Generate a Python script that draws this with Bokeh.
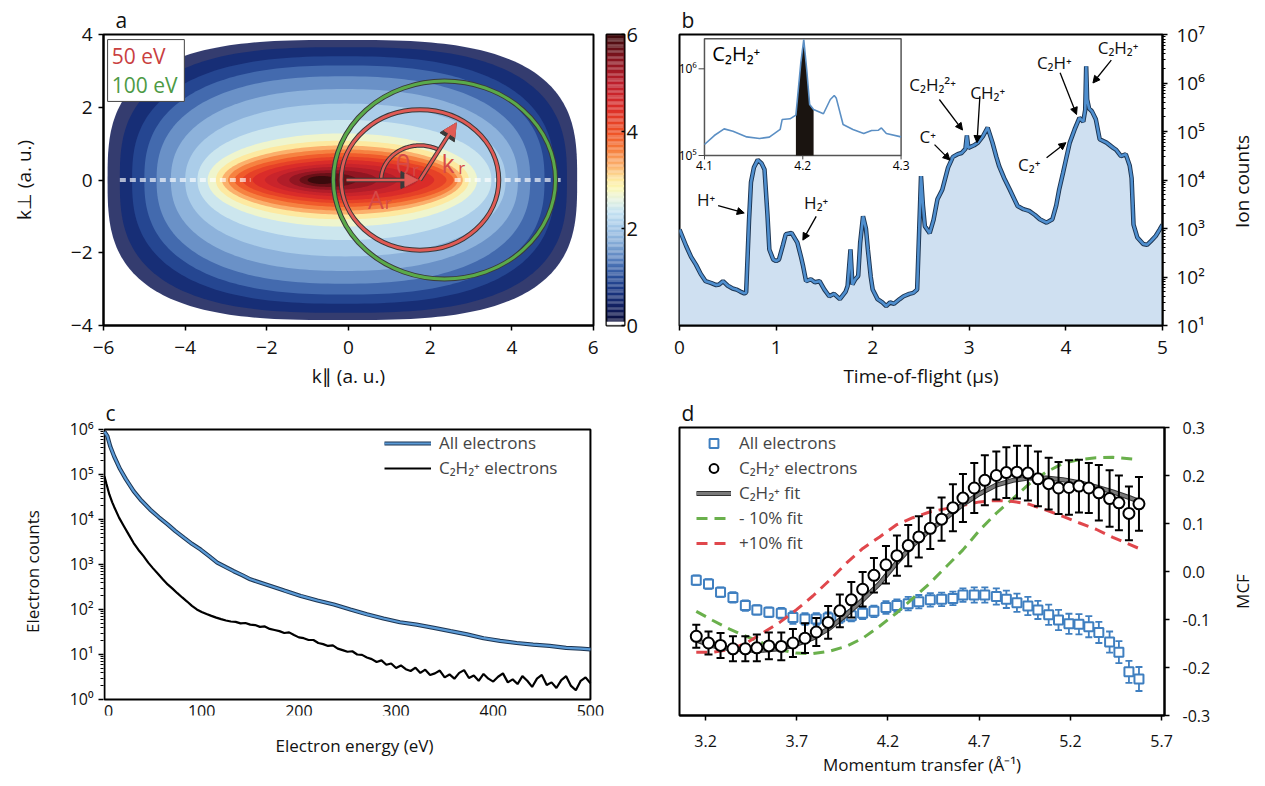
import numpy as np
from bokeh.plotting import figure
from bokeh.layouts import row, column
from bokeh.models import (Range1d, LogScale, FixedTicker, Arrow, NormalHead, Title,
                          Legend, LegendItem, NumeralTickFormatter)
from bokeh.embed import file_html
from bokeh.resources import INLINE
from bokeh.core.properties import value

FONT = "Open Sans"

# ---------------- Panel a : momentum distribution (log10 counts) ----------------
level_value = [0.3, 0.6, 0.9, 1.2, 1.5, 1.8, 2.1, 2.4, 2.7, 3.0, 3.3, 3.6, 3.9, 4.2, 4.5, 4.8, 5.1, 5.4, 5.7, 6.0]
level_xl = [-5.9, -5.6, -5.3, -5.0, -4.7, -4.35, -4.0, -3.7, -3.45, -3.25, -3.1, -2.95, -2.8, -2.6, -2.35, -2.05, -1.75, -1.45, -1.2, -1.0]
level_xr = [5.6, 5.35, 5.05, 4.8, 4.45, 4.15, 3.85, 3.5, 3.15, 2.95, 2.8, 2.68, 2.58, 2.4, 2.1, 1.7, 1.2, 0.7, 0.2, -0.3]
level_yh = [3.85, 3.65, 3.4, 3.15, 2.85, 2.5, 2.1, 1.65, 1.28, 1.08, 0.95, 0.84, 0.74, 0.64, 0.55, 0.45, 0.36, 0.27, 0.19, 0.11]
level_n = [3.0, 2.8, 2.6, 2.5, 2.4, 2.3, 2.2, 2.1, 2.0, 2.0, 1.9, 1.9, 1.8, 1.8, 1.8, 1.8, 1.9, 2.0, 2.0, 2.0]
streak_x0 = [-5.6, 2.6]
streak_x1 = [-2.4, 5.2]
energy_label = ["50 eV", "100 eV"]
circle_cx = [1.75, 2.35]
circle_r = [1.93, 2.72]
ar_arrow = [-0.05, 0.0, 1.70, 0.0]
kr_arrow = [1.75, 0.0, 2.64, 1.57]
theta_arc = [1.75, 0.95, 60.0, 180.0]
sym_text = ["θ", "k", "A"]
sym_x = [1.34, 2.44, 0.67]
sym_y = [0.43, 0.47, -0.515]
sub_x = [1.64, 2.77, 0.97]
sub_y = [0.29, 0.34, -0.61]
a_xticks = [-6, -4, -2, 0, 2, 4, 6]
a_yticks = [-4, -2, 0, 2, 4]
cbar_ticks = [0, 2, 4, 6]

# colour map stops (value, colour)
cb_stop_v = [0.0, 0.08, 0.09, 0.35, 0.7, 1.0, 1.3, 1.65, 2.0, 2.35, 2.62, 2.83, 3.0, 3.3, 3.65, 4.0, 4.5, 5.0, 5.5, 6.0]
cb_stop_c = ["#ffffff", "#ffffff", "#0b0f3d", "#111d5c", "#1a3580", "#2a4f9a", "#4f77b8", "#7ea5d3",
             "#a0c4e6", "#c6e3f2", "#e8f3dc", "#fbf7b5", "#fde9a0", "#fbb06c", "#f57a3a", "#ee4f25",
             "#da2c29", "#bd1f2c", "#86141f", "#3a0a0c"]

# ---------------- Panel b : time-of-flight spectrum ----------------
tof_t = [0.00, 0.07, 0.12, 0.17, 0.22, 0.27, 0.33, 0.38, 0.41, 0.45,
         0.50, 0.55, 0.59, 0.63, 0.67, 0.69, 0.72, 0.74, 0.77, 0.81,
         0.85, 0.88, 0.91, 0.93, 0.97, 1.00, 1.03, 1.07, 1.10, 1.16,
         1.22, 1.26, 1.28, 1.31, 1.36, 1.40, 1.45, 1.50, 1.55, 1.60,
         1.66, 1.72, 1.74, 1.77, 1.79, 1.82, 1.85, 1.87, 1.90, 1.93,
         1.95, 1.98, 2.00, 2.05, 2.10, 2.14, 2.18, 2.22, 2.28, 2.32,
         2.38, 2.42, 2.46, 2.49, 2.50, 2.52, 2.54, 2.59, 2.63, 2.67,
         2.72, 2.78, 2.83, 2.88, 2.92, 2.96, 2.975, 2.99, 3.05, 3.09,
         3.14, 3.19, 3.24, 3.28, 3.31, 3.36, 3.42, 3.50, 3.56, 3.62,
         3.68, 3.73, 3.80, 3.86, 3.90, 3.93, 3.97, 4.00, 4.04, 4.09,
         4.14, 4.18, 4.20, 4.21, 4.22, 4.24, 4.27, 4.31, 4.35, 4.42,
         4.49, 4.52, 4.57, 4.62, 4.66, 4.68, 4.70, 4.74, 4.80, 4.84,
         4.88, 4.93, 4.97, 5.00]
tof_counts = [950, 430, 260, 180, 115, 82, 75, 68, 70, 82,
              66, 58, 55, 50, 46, 48, 1500, 9000, 18000, 26000,
              22000, 16500, 2000, 370, 230, 212, 230, 450, 760, 810,
              510, 250, 166, 82, 90, 78, 82, 55, 40, 45,
              35, 50, 65, 370, 70, 90, 105, 500, 1780, 1000,
              370, 100, 55, 35, 30, 25, 30, 28, 35, 40,
              45, 47, 55, 3000, 12000, 3000, 1120, 800, 1500, 4000,
              6300, 18000, 30000, 34000, 36000, 44000, 83000, 46000, 52000, 59000,
              79000, 120000, 59000, 30000, 19000, 11000, 6300, 2900, 2500, 2300,
              1900, 1550, 1320, 1550, 3000, 6300, 14000, 26000, 59000, 110000,
              190000, 160000, 280000, 2200000, 460000, 300000, 260000, 178000, 69000, 59000,
              46000, 42000, 31000, 34000, 20000, 11000, 1200, 650, 480, 460,
              550, 700, 950, 1200]
b_xticks = [0, 1, 2, 3, 4, 5]
b_yticks = [10, 100, 1000, 10000, 100000, 1000000, 10000000]
b_ylabels = ["10¹", "10²", "10³", "10⁴", "10⁵", "10⁶", "10⁷"]
ion_label = ["H⁺", "H₂⁺", "C⁺", "C₂H₂²⁺", "CH₂⁺", "C₂⁺", "C₂H⁺", "C₂H₂⁺"]
ion_label_t = [0.276, 1.415, 2.57, 2.62, 3.19, 3.62, 3.88, 4.54]
ion_label_c = [4000, 3400, 78000, 930000, 630000, 21000, 2700000, 5400000]
ion_arrow_t0 = [0.40, 1.415, 2.64, 2.69, 3.11, 3.80, 3.94, 4.47]
ion_arrow_c0 = [2950, 1780, 53700, 457000, 537000, 28800, 1620000, 2950000]
ion_arrow_t1 = [0.67, 1.277, 2.80, 2.93, 3.08, 4.00, 4.11, 4.28]
ion_arrow_c1 = [2090, 575, 25700, 107000, 58900, 58900, 224000, 1000000]

# inset (C2H2+ peak)
inset_t = [4.100, 4.110, 4.120, 4.129, 4.143, 4.156, 4.166, 4.177, 4.179, 4.187,
           4.193, 4.198, 4.201, 4.204, 4.207, 4.211, 4.221, 4.228, 4.232, 4.234,
           4.241, 4.251, 4.262, 4.270, 4.277, 4.280, 4.285, 4.300]
inset_counts = [134000, 170000, 203000, 191000, 164000, 157000, 163000, 200000, 260000, 265000,
                292000, 1170000, 2180000, 982000, 387000, 339000, 303000, 443000, 492000, 462000,
                228000, 200000, 179000, 194000, 196000, 208000, 179000, 164000]
inset_gate = [4.193, 4.211]
inset_xticks = [4.1, 4.2, 4.3]
inset_xlabels = ["4.1", "4.2", "4.3"]
inset_yticks = [100000, 1000000]
inset_ylabels = ["10⁵", "10⁶"]

# ---------------- Panel c : electron energy spectra ----------------
all_e = [0, 3, 6, 10, 16, 22, 30, 38, 47, 56, 65, 73, 82, 90, 99, 108, 116, 125, 133, 142,
         150, 167, 185, 202, 219, 236, 253, 270, 287, 304, 321, 339, 356, 373, 390, 407, 424, 441,
         458, 475, 490, 500]
all_counts = [890000, 710000, 417000, 251000, 132000, 79000, 42700, 26300, 16600, 11200,
              7760, 5500, 3890, 2880, 2140, 1510, 1100, 870, 708, 575,
              468, 355, 263, 200, 158, 129, 100, 78, 63, 52,
              46, 39, 33, 28, 23, 20, 18, 16.6, 15.5, 14, 13.5, 13]
ion_e = [0, 2, 5, 8] + list(range(10, 505, 5))
ion_counts = [90000, 62000, 36000, 24000,
              19000, 11000, 7100, 4600, 3000, 2100, 1550, 1100, 820, 620,
              470, 360, 290, 230, 185, 150, 120, 100, 88, 79,
              72, 66, 61, 57,
              54, 53, 49, 50, 46, 45, 41, 42, 37, 35,
              33, 30, 31, 27, 24, 23, 21, 21, 18, 17,
              15.5, 16, 13.5, 12.5, 11.5, 11.8, 10, 9.8, 8.6, 7.9,
              6.8, 7.4, 5.9, 6.3, 5.0, 5.7, 4.7, 4.3, 5.1, 3.9,
              4.6, 3.5, 3.8, 4.4, 3.1, 3.6, 2.9, 3.9, 4.5, 3.0,
              3.4, 2.6, 3.7, 2.9, 2.5, 3.2, 3.8, 2.4, 2.8, 2.2,
              3.3, 2.6, 1.9, 2.9, 3.5, 2.1, 2.4, 1.8, 2.7, 3.3,
              2.0, 1.6, 2.6, 3.1, 2.3]
c_xticks = [0, 100, 200, 300, 400, 500]
c_xlabels = ["0", "100", "200", "300", "400", "500"]
c_yticks = [1, 10, 100, 1000, 10000, 100000, 1000000]
c_ylabels = ["10⁰", "10¹", "10²", "10³", "10⁴", "10⁵", "10⁶"]

# ---------------- Panel d : MCF vs momentum transfer ----------------
mt_x = [3.149, 3.216, 3.282, 3.350, 3.418, 3.481, 3.547, 3.615, 3.679, 3.745,
        3.807, 3.872, 3.936, 3.999, 4.061, 4.123, 4.189, 4.249, 4.311, 4.369,
        4.432, 4.494, 4.556, 4.611, 4.673, 4.731, 4.794, 4.849, 4.907, 4.967,
        5.022, 5.081, 5.135, 5.192, 5.247, 5.301, 5.356, 5.415, 5.466, 5.521, 5.576]
all_mcf = [-0.018, -0.026, -0.043, -0.054, -0.071, -0.080, -0.085, -0.087, -0.096, -0.099,
           -0.099, -0.097, -0.095, -0.092, -0.087, -0.083, -0.075, -0.071, -0.067, -0.063,
           -0.059, -0.058, -0.056, -0.049, -0.049, -0.049, -0.052, -0.058, -0.065, -0.072,
           -0.080, -0.090, -0.101, -0.109, -0.110, -0.115, -0.127, -0.147, -0.168, -0.209, -0.224]
all_err = [0.010, 0.010, 0.010, 0.011, 0.011, 0.010, 0.010, 0.011, 0.013, 0.012,
           0.012, 0.012, 0.012, 0.012, 0.012, 0.012, 0.013, 0.013, 0.014, 0.014,
           0.014, 0.014, 0.014, 0.014, 0.016, 0.016, 0.017, 0.018, 0.019, 0.019,
           0.019, 0.021, 0.021, 0.021, 0.021, 0.022, 0.022, 0.022, 0.023, 0.023, 0.025]
ion_mcf = [-0.135, -0.149, -0.154, -0.161, -0.161, -0.159, -0.155, -0.156, -0.149, -0.139,
           -0.126, -0.106, -0.082, -0.059, -0.037, -0.008, 0.014, 0.033, 0.054, 0.072,
           0.090, 0.109, 0.133, 0.153, 0.174, 0.190, 0.200, 0.206, 0.207, 0.205,
           0.193, 0.183, 0.174, 0.175, 0.178, 0.174, 0.164, 0.152, 0.143, 0.121, 0.141]
ion_err = [0.024, 0.024, 0.026, 0.026, 0.026, 0.028, 0.028, 0.029, 0.029, 0.031,
           0.029, 0.034, 0.034, 0.037, 0.036, 0.036, 0.039, 0.042, 0.043, 0.043,
           0.043, 0.045, 0.049, 0.050, 0.052, 0.052, 0.050, 0.053, 0.055, 0.057,
           0.057, 0.054, 0.054, 0.057, 0.055, 0.052, 0.058, 0.059, 0.057, 0.056, 0.056]
fit_x = [3.149, 3.240, 3.332, 3.423, 3.514, 3.606, 3.697, 3.788, 3.880, 3.971, 4.062, 4.154, 4.245, 4.336,
         4.428, 4.519, 4.611, 4.702, 4.793, 4.885, 4.976, 5.067, 5.159, 5.250, 5.341, 5.433, 5.524, 5.576]
fit_mcf = [-0.143, -0.155, -0.161, -0.164, -0.164, -0.161, -0.152, -0.139, -0.118, -0.090, -0.059, -0.025,
           0.017, 0.055, 0.086, 0.112, 0.140, 0.162, 0.180, 0.190, 0.195, 0.195, 0.191, 0.185, 0.176,
           0.166, 0.154, 0.146]
pm_x = [3.149, 3.240, 3.332, 3.423, 3.514, 3.606, 3.697, 3.788, 3.880, 3.971, 4.062, 4.154, 4.245, 4.336,
        4.428, 4.519, 4.611, 4.702, 4.793, 4.885, 4.976, 5.067, 5.159, 5.250, 5.341, 5.433, 5.576]
minus_mcf = [-0.083, -0.102, -0.120, -0.135, -0.149, -0.163, -0.170, -0.171, -0.166, -0.156, -0.139, -0.114,
             -0.087, -0.056, -0.025, 0.010, 0.045, 0.086, 0.121, 0.152, 0.183, 0.207, 0.225, 0.233, 0.237,
             0.238, 0.233]
plus_mcf = [-0.168, -0.168, -0.163, -0.149, -0.128, -0.106, -0.080, -0.051, -0.018, 0.017, 0.048, 0.072,
            0.097, 0.112, 0.124, 0.131, 0.138, 0.145, 0.148, 0.146, 0.140, 0.128, 0.115, 0.101, 0.088,
            0.071, 0.048]
d_xticks = [3.2, 3.7, 4.2, 4.7, 5.2, 5.7]
d_yticks = [-0.3, -0.2, -0.1, 0.0, 0.1, 0.2, 0.3]

assert len(tof_t) == len(tof_counts)
assert len(ion_e) == len(ion_counts)
assert len(all_e) == len(all_counts)

# ---------------- helpers ----------------
_CBV = np.array(cb_stop_v)
_CBC = np.array([[int(c[i:i + 2], 16) for i in (1, 3, 5)] for c in cb_stop_c], float)


def cmap(v):
    rgb = [int(round(np.interp(v, _CBV, _CBC[:, k]))) for k in range(3)]
    return "#%02x%02x%02x" % tuple(rgb)


def base_fig(letter=None, offset=0, **kw):
    p = figure(output_backend="svg", toolbar_location=None, **kw)
    p.grid.visible = False
    p.outline_line_color = "black"
    p.outline_line_width = 2
    p.background_fill_color = "white"
    p.border_fill_color = "white"
    if letter is not None:
        p.title = Title(text=letter, align="left", offset=offset, standoff=2, text_font=FONT,
                        text_font_size="21px", text_font_style="normal", text_color="#111111")
    return p


def side_label(w, h, top, bottom, txt, lx, ly, fs):
    fh = h - top - bottom
    f = figure(width=w, height=h, x_range=Range1d(0, w), y_range=Range1d(0, fh), output_backend="svg",
               toolbar_location=None, x_axis_location=None, y_axis_location=None,
               min_border_left=0, min_border_right=0, min_border_top=top, min_border_bottom=bottom)
    f.grid.visible = False
    f.outline_line_color = None
    f.background_fill_color = "white"
    f.border_fill_color = "white"
    f.text(x=[lx], y=[ly], text=[txt], angle=np.pi / 2, text_font=value(FONT), text_font_size=fs,
           text_color="#111111", text_align="center", text_baseline="middle")
    return f


def style_axis(ax, fs, lfs, standoff, lstandoff, tick_out=5):
    ax.major_label_text_font = FONT
    ax.major_label_text_font_size = fs
    ax.major_label_text_color = "#111111"
    ax.axis_label_text_font = FONT
    ax.axis_label_text_font_size = lfs
    ax.axis_label_text_font_style = "normal"
    ax.axis_label_text_color = "#111111"
    ax.axis_line_color = "black"
    ax.axis_line_width = 2
    ax.major_tick_line_color = "black"
    ax.major_tick_line_width = 1.5
    ax.major_tick_out = tick_out
    ax.major_tick_in = 0
    ax.major_label_standoff = standoff
    ax.axis_label_standoff = lstandoff


def minor_log(ticks):
    out = []
    for t in ticks[:-1]:
        out += [t * k for k in range(2, 10)]
    return out


# ================= Panel a =================
pa = base_fig("a", 12, width=598, height=394, x_range=Range1d(-6, 6), y_range=Range1d(-4, 4),
              min_border_left=103, min_border_right=5, min_border_top=34, min_border_bottom=69)
tt = np.linspace(0, 2 * np.pi, 241)
xs, ys, cols, alphas = [], [], [], []
for i, (v, xl, xr, yh, n) in enumerate(zip(level_value, level_xl, level_xr, level_yh, level_n)):
    xc = 0.5 * (xl + xr)
    aa = 0.5 * (xr - xl)
    c, s = np.cos(tt), np.sin(tt)
    xs.append(list(xc + aa * np.sign(c) * np.abs(c) ** (2.0 / n)))
    ys.append(list(yh * np.sign(s) * np.abs(s) ** (2.0 / n)))
    cols.append(cmap(v))
    alphas.append(0.85 if i == 0 else 1.0)
pa.patches(xs, ys, fill_color=cols, fill_alpha=alphas, line_color=None)
pa.segment(x0=streak_x0, y0=[0, 0], x1=streak_x1, y1=[0, 0], line_color="white",
           line_alpha=0.65, line_width=4, line_dash="6 4")

ring_colors = ["#e05a55", "#5aaa4a"]
pa.ellipse(x=circle_cx, y=[0, 0], width=[2 * r for r in circle_r], height=[2 * r for r in circle_r],
           fill_color=None, line_color="#3a3a3a", line_width=5)
pa.ellipse(x=circle_cx, y=[0, 0], width=[2 * r for r in circle_r], height=[2 * r for r in circle_r],
           fill_color=None, line_color=ring_colors, line_width=3)

ang = np.radians(np.linspace(theta_arc[2], theta_arc[3], 60))
arc_x = theta_arc[0] + theta_arc[1] * np.cos(ang)
arc_y = theta_arc[1] * np.sin(ang)
pa.line(arc_x, arc_y, line_color="#3a3a3a", line_width=4.5)
pa.line(arc_x, arc_y, line_color="#e05a55", line_width=2.5)

for arr in (ar_arrow, kr_arrow):
    pa.add_layout(Arrow(x_start=arr[0], y_start=arr[1], x_end=arr[2], y_end=arr[3],
                        line_color="#3a3a3a", line_width=4.5,
                        end=NormalHead(size=17, fill_color="#3a3a3a", line_color="#3a3a3a")))
    pa.add_layout(Arrow(x_start=arr[0], y_start=arr[1], x_end=arr[2], y_end=arr[3],
                        line_color="#e05a55", line_width=2.5,
                        end=NormalHead(size=13, fill_color="#e05a55", line_color="#e05a55")))

pa.text(x=sym_x, y=sym_y, text=sym_text, text_font=value(FONT), text_font_size="25px",
        text_color="#d64a47", text_align="center", text_baseline="middle")
pa.text(x=sub_x, y=sub_y, text=["r", "r", "r"], text_font=value(FONT), text_font_size="17px",
        text_color="#d64a47", text_align="center", text_baseline="middle")

pa.quad(left=[-5.9], right=[-4.02], top=[3.86], bottom=[2.16], fill_color="white",
        line_color="#444444", line_width=1)
pa.text(x=[-5.8, -5.8], y=[3.42, 2.62], text=energy_label, text_font=value(FONT),
        text_font_size="21px", text_color=["#c9403f", "#4d9a44"], text_align="left",
        text_baseline="middle")

pa.xaxis.ticker = FixedTicker(ticks=a_xticks)
pa.yaxis.ticker = FixedTicker(ticks=a_yticks)
pa.xaxis.axis_label = "k∥ (a. u.)"
pa.yaxis.axis_label = "k⊥ (a. u.)"
style_axis(pa.xaxis[0], "19px", "19px", 10, 6)
style_axis(pa.yaxis[0], "19px", "19px", 6, 31)

# ================= Colour bar =================
pcb = base_fig(width=61, height=394, x_range=Range1d(0, 1), y_range=Range1d(0, 6),
               y_axis_location="right", x_axis_location=None,
               min_border_left=8, min_border_right=35, min_border_top=34, min_border_bottom=69)
cbv = np.linspace(0, 6, 241)
pcb.quad(left=0, right=1, bottom=cbv[:-1], top=cbv[1:],
         fill_color=[cmap(0.5 * (a + b)) for a, b in zip(cbv[:-1], cbv[1:])], line_color=None)
pcb.yaxis.ticker = FixedTicker(ticks=cbar_ticks)
style_axis(pcb.yaxis[0], "20px", "12px", 2, 2, tick_out=0)
pcb.yaxis.major_tick_in = 3
pcb.yaxis.axis_line_color = None

# ================= Panel b =================
pb = base_fig("b", 2, width=567, height=394, x_range=Range1d(0, 5), y_range=Range1d(10, 1e7),
              y_axis_type="log", y_axis_location="right",
              min_border_left=20, min_border_right=64, min_border_top=34, min_border_bottom=69)
pb.extra_x_ranges = {"ix": Range1d(4.0746, 4.5659)}
pb.extra_y_ranges = {"iy": Range1d(10 ** 3.039, 10 ** 6.396)}
pb.extra_y_scales = {"iy": LogScale()}

pb.varea(x=tof_t, y1=[10] * len(tof_t), y2=tof_counts, fill_color="#cfe0f1")
pb.line(tof_t, tof_counts, line_color="#1d3552", line_width=4.5)
pb.line(tof_t, tof_counts, line_color="#4f8fcf", line_width=2.6)

pb.text(x=ion_label_t, y=ion_label_c, text=ion_label, text_font=value(FONT), text_font_size="17px",
        text_color="#111111", text_align="center", text_baseline="middle")
for t0, c0, t1, c1 in zip(ion_arrow_t0, ion_arrow_c0, ion_arrow_t1, ion_arrow_c1):
    pb.add_layout(Arrow(x_start=t0, y_start=c0, x_end=t1, y_end=c1, line_color="black", line_width=1.3,
                        end=NormalHead(size=7, fill_color="black", line_color="black", line_width=1)))

# inset
pb.quad(left=[4.1], right=[4.3], bottom=[1e5], top=[10 ** 6.346], fill_color="white",
        line_color="#555555", line_width=1.5, x_range_name="ix", y_range_name="iy")
g_t = [t for t in inset_t if inset_gate[0] <= t <= inset_gate[1]]
g_c = [c for t, c in zip(inset_t, inset_counts) if inset_gate[0] <= t <= inset_gate[1]]
pb.varea(x=g_t, y1=[1e5] * len(g_t), y2=g_c, fill_color="#1a1410", x_range_name="ix", y_range_name="iy")
pb.line(inset_t, inset_counts, line_color="#5b8fc4", line_width=1.6, x_range_name="ix", y_range_name="iy")
pb.segment(x0=[4.1 - 0.006] * 2, y0=inset_yticks, x1=[4.1] * 2, y1=inset_yticks, line_color="#444444",
           line_width=1, x_range_name="ix", y_range_name="iy")
pb.segment(x0=inset_xticks, y0=[1e5] * 3, x1=inset_xticks, y1=[10 ** 4.955] * 3, line_color="#444444",
           line_width=1, x_range_name="ix", y_range_name="iy")
pb.text(x=inset_xticks, y=[10 ** 4.94] * 3, text=inset_xlabels, text_font=value(FONT),
        text_font_size="12px", text_align="center", text_baseline="top", x_range_name="ix",
        y_range_name="iy")
pb.text(x=[4.1 - 0.008] * 2, y=inset_yticks, text=inset_ylabels, text_font=value(FONT),
        text_font_size="12px", text_align="right", text_baseline="middle", x_range_name="ix",
        y_range_name="iy")
pb.text(x=[4.108], y=[10 ** 6.176], text=["C₂H₂⁺"], text_font=value(FONT), text_font_size="20px",
        text_align="left", text_baseline="middle", x_range_name="ix", y_range_name="iy")

pb.xaxis.ticker = FixedTicker(ticks=b_xticks)
pb.yaxis.ticker = FixedTicker(ticks=b_yticks, minor_ticks=minor_log(b_yticks))
pb.yaxis.major_label_overrides = dict(zip(b_yticks, b_ylabels))
pb.xaxis.axis_label = "Time-of-flight (µs)"
style_axis(pb.xaxis[0], "19px", "19px", 10, 6)
style_axis(pb.yaxis[0], "19px", "19px", 9, 6)
pb.xaxis.minor_tick_line_color = None
pb.yaxis.minor_tick_out = 3
pb.yaxis.minor_tick_in = 0
pb.yaxis.minor_tick_line_color = "black"
pbl = side_label(30, 394, 34, 69, "Ion counts", 15, 144, "19px")

# ================= Panel c =================
# frame is shared (aligned) with panel d; the axis box of c is drawn as its own outline
pc = base_fig("c", 2, width=605, height=387, x_range=Range1d(-1, 515.5),
              y_range=Range1d(10 ** -0.356, 10 ** 6.044), y_axis_type="log",
              min_border_left=103, min_border_right=0, min_border_top=33, min_border_bottom=66)
pc.outline_line_color = None
pc.quad(left=[0], right=[500], bottom=[1], top=[1e6], fill_color=None, line_color="black", line_width=2)
r_all_dark = pc.line(all_e, all_counts, line_color="#1d3552", line_width=4.2)
r_all = pc.line(all_e, all_counts, line_color="#5a9ad6", line_width=2.2)
r_ion = pc.line(ion_e, ion_counts, line_color="black", line_width=2.2)
pc.text(x=c_xticks, y=[1] * len(c_xticks), text=c_xlabels, x_offset=[4, 0, 0, 0, 0, 0], y_offset=12,
        text_font=value(FONT), text_font_size="16px", text_color="#111111", text_align="center",
        text_baseline="middle")
pc.xaxis.ticker = FixedTicker(ticks=[])
pc.yaxis.ticker = FixedTicker(ticks=c_yticks, minor_ticks=minor_log(c_yticks))
pc.yaxis.major_label_overrides = dict(zip(c_yticks, c_ylabels))
pc.xaxis.axis_label = "Electron energy (eV)"
pc.yaxis.axis_label = "Electron counts"
style_axis(pc.xaxis[0], "16px", "17px", 0, 18, tick_out=0)
style_axis(pc.yaxis[0], "16px", "17px", 5, 23)
pc.xaxis.axis_line_color = None
pc.yaxis.axis_line_color = None
pc.xaxis.minor_tick_line_color = None
pc.yaxis.minor_tick_out = 3
pc.yaxis.minor_tick_in = 0
pc.yaxis.minor_tick_line_color = "black"
leg_c = Legend(items=[LegendItem(label="All electrons", renderers=[r_all_dark, r_all]),
                      LegendItem(label="C₂H₂⁺ electrons", renderers=[r_ion])],
               location=(281, 236), padding=0, margin=0, spacing=2, glyph_width=47, glyph_height=20,
               label_height=20, label_standoff=8, label_text_font=FONT, label_text_font_size="17px",
               background_fill_alpha=0, border_line_color=None)
pc.add_layout(leg_c)

# ================= Panel d =================
pd = base_fig("d", 2, width=621, height=387, x_range=Range1d(3.057, 5.716), y_range=Range1d(-0.3, 0.3),
              y_axis_location="right",
              min_border_left=74, min_border_right=62, min_border_top=33, min_border_bottom=66)
all_lo = [m - e for m, e in zip(all_mcf, all_err)]
all_hi = [m + e for m, e in zip(all_mcf, all_err)]
ion_lo = [m - e for m, e in zip(ion_mcf, ion_err)]
ion_hi = [m + e for m, e in zip(ion_mcf, ion_err)]
BLUE = "#3f7fc0"
pd.segment(x0=mt_x, y0=all_lo, x1=mt_x, y1=all_hi, line_color=BLUE, line_width=1.8)
pd.scatter(mt_x, all_lo, marker="dash", size=7, line_color=BLUE, line_width=1.8)
pd.scatter(mt_x, all_hi, marker="dash", size=7, line_color=BLUE, line_width=1.8)
r_sq = pd.scatter(mt_x, all_mcf, marker="square", size=9, fill_color="white", line_color=BLUE,
                  line_width=2)
r_minus = pd.line(pm_x, minus_mcf, line_color="#6ab04c", line_width=3, line_dash="11 7")
r_plus = pd.line(pm_x, plus_mcf, line_color="#e0474c", line_width=3, line_dash="11 7")
r_fit_dark = pd.line(fit_x, fit_mcf, line_color="#333333", line_width=5)
r_fit = pd.line(fit_x, fit_mcf, line_color="#7a7a7a", line_width=3)
pd.segment(x0=mt_x, y0=ion_lo, x1=mt_x, y1=ion_hi, line_color="black", line_width=2)
pd.scatter(mt_x, ion_lo, marker="dash", size=8, line_color="black", line_width=2)
pd.scatter(mt_x, ion_hi, marker="dash", size=8, line_color="black", line_width=2)
r_circ = pd.scatter(mt_x, ion_mcf, marker="circle", size=11, fill_color="white", line_color="black",
                    line_width=2)
pd.xaxis.ticker = FixedTicker(ticks=d_xticks)
pd.yaxis.ticker = FixedTicker(ticks=d_yticks)
pd.xaxis.formatter = NumeralTickFormatter(format="0.0")
pd.yaxis.formatter = NumeralTickFormatter(format="0.0")
pd.xaxis.axis_label = "Momentum transfer (Å⁻¹)"
style_axis(pd.xaxis[0], "16px", "17px", 14, 3)
style_axis(pd.yaxis[0], "16px", "17px", 13, 6)
pd.xaxis.minor_tick_line_color = None
pd.yaxis.minor_tick_line_color = None
leg_d = Legend(items=[LegendItem(label="All electrons", renderers=[r_sq]),
                      LegendItem(label="C₂H₂⁺ electrons", renderers=[r_circ]),
                      LegendItem(label="C₂H₂⁺ fit", renderers=[r_fit_dark, r_fit]),
                      LegendItem(label="- 10% fit", renderers=[r_minus]),
                      LegendItem(label="+10% fit", renderers=[r_plus])],
               location=(17, 161), padding=0, margin=0, spacing=2, glyph_width=35, glyph_height=22,
               label_height=22, label_standoff=8, label_text_font=FONT, label_text_font_size="17px",
               background_fill_alpha=0, border_line_color=None)
pd.add_layout(leg_d)
pdl = side_label(30, 387, 33, 66, "MCF", 16, 124, "17px")

layout = column(row(pa, pcb, pb, pbl), row(pc, pd, pdl))
open("out.html", "w").write(file_html(layout, INLINE))
